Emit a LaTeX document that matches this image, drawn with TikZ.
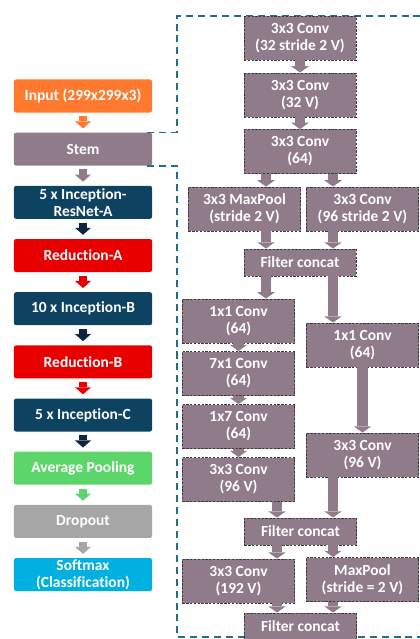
\documentclass[tikz,border=0pt]{standalone}
\usepackage{fontspec}
\setmainfont{Carlito}[Ligatures={NoCommon}]
\usetikzlibrary{positioning,arrows.meta}

\definecolor{inorange}{HTML}{FF7A2E}
\definecolor{stemmauve}{HTML}{8F7B89}
\definecolor{incnavy}{HTML}{0D4260}
\definecolor{arrnavy}{HTML}{0F2440}
\definecolor{redblock}{HTML}{E80000}
\definecolor{poolgreen}{HTML}{5CD66B}
\definecolor{dropgray}{HTML}{A6A6A6}
\definecolor{softcyan}{HTML}{00B0E0}
\definecolor{zoomblue}{HTML}{1F6E8E}
\definecolor{boxedge}{HTML}{3A3A3A}

\tikzset{
  stage/.style={rectangle, rounded corners=1.5pt, minimum width=3.45cm, minimum height=0.825cm,
    inner sep=0.3pt, align=center, text=white, font=\fontsize{11}{12}\selectfont\bfseries},
  layer/.style={rectangle, fill=stemmauve, draw=boxedge, dash pattern=on 1.6pt off 1.1pt,
    line width=0.6pt, minimum width=2.8cm, minimum height=1.1cm, inner sep=0.5pt,
    align=center, text=white, font=\fontsize{11}{12}\selectfont\bfseries},
  concat/.style={layer, minimum height=0.675cm},
  stagearrow/.style={line width=5.7pt, -{Triangle[width=11.4pt,length=5pt,line width=0pt]},
    shorten <=2.5pt, shorten >=2.8pt},
  flow/.style={draw=stemmauve, line width=7.8pt, -{Triangle[width=12.5pt,length=4.5pt,line width=0pt]}},
  zoomline/.style={draw=zoomblue, line width=1.1pt, dash pattern=on 5pt off 3.5pt}
}

\begin{document}
\begin{tikzpicture}[x=0.025cm, y=-0.025cm, node distance=0.49cm]
  \useasboundingbox (0,0) rectangle (420,639);

  % main network
  \node[stage, fill=inorange] (input) at (83,96) {Input (299x299x3)};
  \node[stage, fill=stemmauve, below=of input] (stem) {Stem};
  \node[stage, fill=incnavy, below=of stem] (incA) {5 x Inception-\\ResNet-A};
  \node[stage, fill=redblock, below=of incA] (redA) {Reduction-A};
  \node[stage, fill=incnavy, below=of redA] (incB) {10 x Inception-B};
  \node[stage, fill=redblock, below=of incB] (redB) {Reduction-B};
  \node[stage, fill=incnavy, below=of redB] (incC) {5 x Inception-C};
  \node[stage, fill=poolgreen, below=of incC] (avgpool) {Average Pooling};
  \node[stage, fill=dropgray, below=of avgpool] (dropout) {Dropout};
  \node[stage, fill=softcyan, below=of dropout] (softmax) {Softmax\\(Classification)};

  \draw[stagearrow, inorange] (input) -- (stem);
  \draw[stagearrow, stemmauve] (stem) -- (incA);
  \draw[stagearrow, arrnavy] (incA) -- (redA);
  \draw[stagearrow, redblock] (redA) -- (incB);
  \draw[stagearrow, arrnavy] (incB) -- (redB);
  \draw[stagearrow, redblock] (redB) -- (incC);
  \draw[stagearrow, arrnavy] (incC) -- (avgpool);
  \draw[stagearrow, poolgreen] (avgpool) -- (dropout);
  \draw[stagearrow, dropgray] (dropout) -- (softmax);

  % zoom frame of the stem
  \coordinate (upturn) at (177,16);
  \coordinate (upend) at (420,16);
  \coordinate (lowturn) at (177,637);
  \coordinate (lowend) at (420,637);
  \draw[zoomline] ([xshift=-3.5pt]stem.north east) -| (upturn) -- (upend);
  \draw[zoomline] ([xshift=-3.5pt]stem.south east) -| (lowturn) -- (lowend);

  % stem layers
  \node[layer] (conv1) at (300,38) {3x3 Conv\\(32 stride 2 V)};
  \node[layer] (conv2) at (300,95) {3x3 Conv\\(32 V)};
  \node[layer] (conv3) at (300,151.5) {3x3 Conv\\(64)};
  \node[layer] (pool1) at (244.5,209) {3x3 MaxPool\\(stride 2 V)};
  \node[layer] (conv4) at (362.5,209) {3x3 Conv\\(96 stride 2 V)};
  \node[concat] (cat1) at (300,262.5) {Filter concat};
  \node[layer] (left1) at (238.5,321) {1x1 Conv\\(64)};
  \node[layer] (right1) at (362.5,345) {1x1 Conv\\(64)};
  \node[layer] (left2) at (238.5,373.5) {7x1 Conv\\(64)};
  \node[layer] (left3) at (238.5,426.5) {1x7 Conv\\(64)};
  \node[layer] (left4) at (238.5,479.5) {3x3 Conv\\(96 V)};
  \node[layer] (right2) at (362.5,455) {3x3 Conv\\(96 V)};
  \node[concat] (cat2) at (300.5,531.5) {Filter concat};
  \node[layer] (conv5) at (238.5,581) {3x3 Conv\\(192 V)};
  \node[layer] (pool2) at (362.5,579.5) {MaxPool\\(stride = 2 V)};
  \node[concat] (cat3) at (300.5,626.5) {Filter concat};

  \coordinate (colA) at (266,0);
  \coordinate (colB) at (333,0);
  \coordinate (colC) at (277,0);

  \draw[flow] (conv1) -- (conv2);
  \draw[flow] (conv2) -- (conv3);
  \draw[flow] (conv3.south -| colA) -- (pool1.north -| colA);
  \draw[flow] (conv3.south -| colB) -- (conv4.north -| colB);
  \draw[flow] (pool1.south -| colA) -- (cat1.north -| colA);
  \draw[flow] (conv4.south -| colB) -- (cat1.north -| colB);
  \draw[flow] (cat1.south -| colA) -- (left1.north -| colA);
  \draw[flow] (cat1.south -| colB) -- (right1.north -| colB);
  \draw[flow] (left1) -- (left2);
  \draw[flow] (left2) -- (left3);
  \draw[flow] (left3) -- (left4);
  \draw[flow] (right1) -- (right2);
  \draw[flow] (left4.south -| colC) -- (cat2.north -| colC);
  \draw[flow] (right2.south -| colB) -- (cat2.north -| colB);
  \draw[flow] (cat2.south -| colC) -- (conv5.north -| colC);
  \draw[flow] (cat2.south -| colB) -- (pool2.north -| colB);
  \draw[flow] (conv5.south -| colC) -- (cat3.north -| colC);
  \draw[flow] (pool2.south -| colB) -- (cat3.north -| colB);
\end{tikzpicture}
\end{document}
